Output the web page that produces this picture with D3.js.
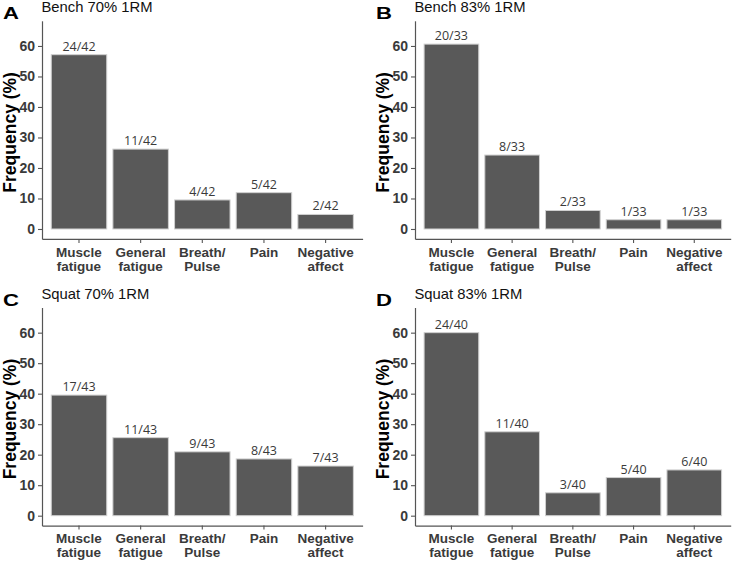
<!DOCTYPE html>
<html>
<head>
<meta charset="utf-8">
<script src="https://cdn.jsdelivr.net/npm/d3@7"></script>
<style>
  body { margin: 0; background: #fff; }
  svg { display: block; }
</style>
</head>
<body>
<div id="chart"></div>
<script>
// categories on the x axis (line breaks as in the figure)
const categories = ["Muscle fatigue", "General fatigue", "Breath/ Pulse", "Pain", "Negative affect"]
const categoryLines = [["Muscle", "fatigue"], ["General", "fatigue"], ["Breath/", "Pulse"], ["Pain"], ["Negative", "affect"]]

// one series per panel: counts out of the panel total
const panelLetters = ["A", "B", "C", "D"]
const panelTitles = ["Bench 70% 1RM", "Bench 83% 1RM", "Squat 70% 1RM", "Squat 83% 1RM"]
const panelTotals = [42, 33, 43, 40]
const benchLow = [24, 11, 4, 5, 2]
const benchHigh = [20, 8, 2, 1, 1]
const squatLow = [17, 11, 9, 8, 7]
const squatHigh = [24, 11, 3, 5, 6]
const yTicks = [0, 10, 20, 30, 40, 50, 60]

const counts = [benchLow, benchHigh, squatLow, squatHigh]

const W = 738, H = 562

const svg = d3.select('#chart')
  .append('svg')
    .attr('width', W)
    .attr('height', H)

// panel boxes (plot area) for the 2x2 grid
const boxes = [
  {left: 42, top: 20.8, right: 362.6, bottom: 238.9},
  {left: 415, top: 20.8, right: 730.7, bottom: 238.9},
  {left: 42, top: 307.5, right: 362.6, bottom: 525.6},
  {left: 415, top: 307.5, right: 730.7, bottom: 525.6}
]

const textCol = "#3a3a3a"

function drawPanel(p) {
  const b = boxes[p]
  const total = panelTotals[p]
  const data = counts[p].map((c, i) => ({cat: categories[i], n: c, pct: c / total * 100}))

  const x = d3.scaleBand()
    .domain(categories)
    .range([b.left, b.right])
    .paddingInner(0.1)
    .paddingOuter(0.15)

  // limits 0..65 with 5% expansion, as ggplot does
  const y = d3.scaleLinear()
    .domain([-3.25, 68.25])
    .range([b.bottom, b.top])

  const g = svg.append('g').attr('class', 'panel')

  // bars
  g.selectAll('rect.bar')
    .data(data)
    .enter()
    .append('rect')
      .attr('class', 'bar')
      .attr('x', d => x(d.cat))
      .attr('width', x.bandwidth())
      .attr('y', d => y(d.pct))
      .attr('height', d => y(0) - y(d.pct))
      .style('fill', '#595959')
      .style('stroke', '#d0d0d0')
      .style('stroke-width', 1)

  // count labels
  g.selectAll('text.lab')
    .data(data)
    .enter()
    .append('text')
      .attr('class', 'lab')
      .attr('x', d => x(d.cat) + x.bandwidth() / 2)
      .attr('y', d => y(d.pct) - 4)
      .attr('text-anchor', 'middle')
      .style('font-family', '"Open Sans", "Noto Sans", sans-serif')
      .style('font-size', '12.5px')
      .style('fill', textCol)
      .text(d => `${d.n}/${total}`)

  // y axis
  const yAxis = g.append('g')
    .attr('transform', `translate(${b.left},0)`)
    .call(d3.axisLeft(y).tickValues(yTicks).tickSize(4).tickSizeOuter(0).tickPadding(3))
  yAxis.select('.domain').attr('stroke', '#555').attr('stroke-width', 1.2)
  yAxis.selectAll('.tick line').attr('stroke', '#555').attr('stroke-width', 1.1)
  yAxis.selectAll('.tick text')
    .style('font-family', '"Liberation Sans", Arial, sans-serif')
    .style('font-weight', 'bold')
    .style('font-size', '14px')
    .style('fill', textCol)

  // x axis
  const xAxis = g.append('g')
    .attr('transform', `translate(0,${b.bottom})`)
    .call(d3.axisBottom(x).tickSize(4).tickSizeOuter(0))
  xAxis.select('.domain').attr('stroke', '#555').attr('stroke-width', 1.2)
  xAxis.selectAll('.tick line').attr('stroke', '#555').attr('stroke-width', 1.1)
  xAxis.selectAll('.tick text').remove()
  xAxis.selectAll('.tick')
    .append('text')
      .attr('text-anchor', 'middle')
      .style('font-family', '"Liberation Sans", Arial, sans-serif')
      .style('font-weight', 'bold')
      .style('font-size', '13.5px')
      .style('fill', textCol)
    .selectAll('tspan')
    .data(d => categoryLines[categories.indexOf(d)])
    .enter()
    .append('tspan')
      .attr('x', 0)
      .attr('y', (d, i) => 17.8 + i * 14)
      .text(d => d)

  // y axis title
  const midY = (b.top + b.bottom) / 2 + 2.5
  g.append('text')
    .attr('transform', `translate(${b.left - 26.5},${midY}) rotate(-90)`)
    .attr('text-anchor', 'middle')
    .style('font-family', '"Liberation Sans", Arial, sans-serif')
    .style('font-weight', 'bold')
    .style('font-size', '17.5px')
    .style('fill', '#000')
    .text('Frequency (%)')

  // panel title
  g.append('text')
    .attr('x', b.left - 0.5)
    .attr('y', b.top - 8.8)
    .style('font-family', '"Liberation Sans", Arial, sans-serif')
    .style('font-size', '14.8px')
    .style('fill', '#111')
    .text(panelTitles[p])

  // panel letter (drawn a bit wider, like the original's heavy tag)
  g.append('text')
    .attr('transform', `translate(${b.left - 39},${b.top - 1.4}) scale(1.3,1)`)
    .style('font-family', '"Liberation Sans", Arial, sans-serif')
    .style('font-weight', 'bold')
    .style('font-size', '17px')
    .style('fill', '#000')
    .text(panelLetters[p])
}

panelLetters.forEach((_, p) => drawPanel(p))
</script>
</body>
</html>
